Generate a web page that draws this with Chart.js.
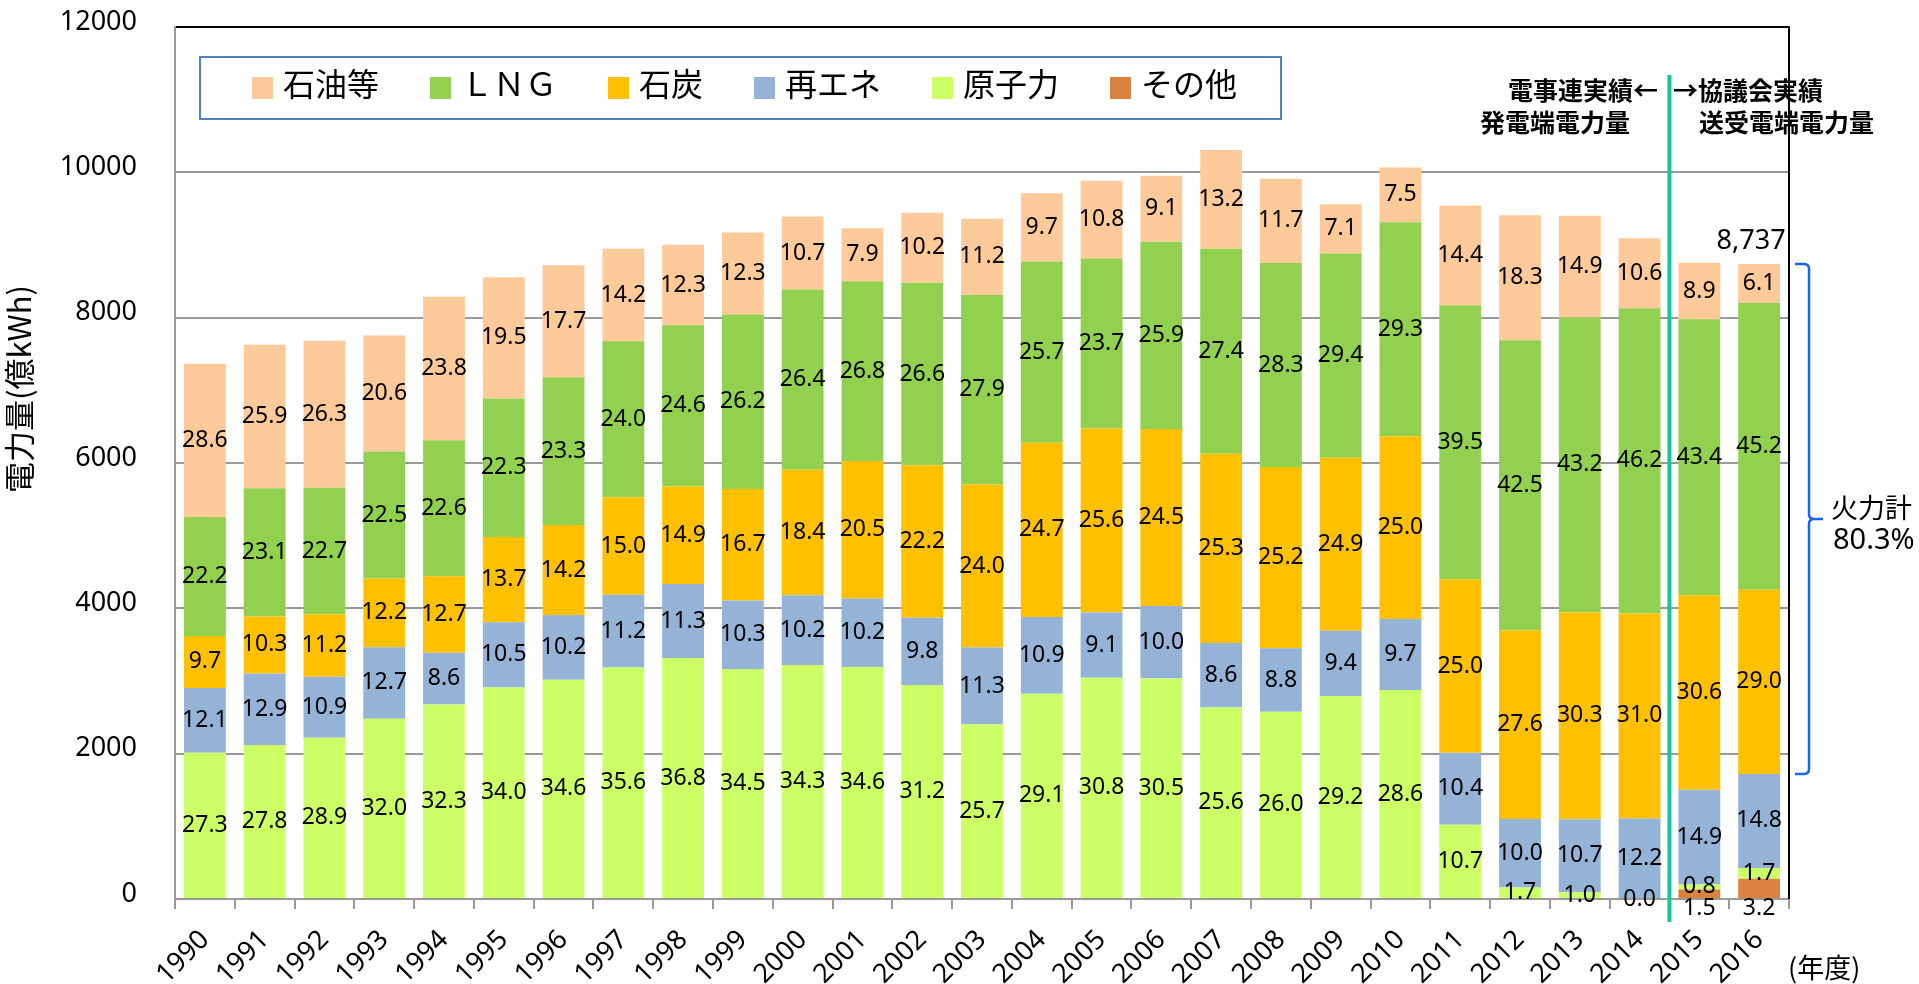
<!DOCTYPE html>
<html lang="ja">
<head>
<meta charset="utf-8">
<title>電源別発電電力量の推移</title>
<script src="https://cdn.jsdelivr.net/npm/chart.js@4.4.1/dist/chart.umd.min.js"></script>
<style>
  html, body { margin: 0; padding: 0; background: #fff; }
  #wrap { width: 1919px; height: 984px; position: relative; }
</style>
</head>
<body>
<div id="wrap"><canvas id="powerChart"></canvas></div>
<script>
// 年度
const years = ['1990', '1991', '1992', '1993', '1994', '1995', '1996', '1997', '1998', '1999',
  '2000', '2001', '2002', '2003', '2004', '2005', '2006', '2007', '2008', '2009',
  '2010', '2011', '2012', '2013', '2014', '2015', '2016'];

// 合計の電力量 (億kWh)
const totals = [7374, 7626, 7681, 7754, 8287, 8557, 8723, 8947, 9012, 9172,
  9392, 9232, 9443, 9351, 9704, 9883, 9952, 10296, 9911, 9562,
  10058, 9544, 9401, 9392, 9094, 8747, 8737];

// 電源別の構成比 (%)
const otherPct = [null, null, null, null, null, null, null, null, null, null,
  null, null, null, null, null, null, null, null, null, null,
  null, null, null, null, null, 1.5, 3.2];
const nuclearPct = [27.3, 27.8, 28.9, 32.0, 32.3, 34.0, 34.6, 35.6, 36.8, 34.5,
  34.3, 34.6, 31.2, 25.7, 29.1, 30.8, 30.5, 25.6, 26.0, 29.2,
  28.6, 10.7, 1.7, 1.0, 0.0, 0.8, 1.7];
const renewPct = [12.1, 12.9, 10.9, 12.7, 8.6, 10.5, 10.2, 11.2, 11.3, 10.3,
  10.2, 10.2, 9.8, 11.3, 10.9, 9.1, 10.0, 8.6, 8.8, 9.4,
  9.7, 10.4, 10.0, 10.7, 12.2, 14.9, 14.8];
const coalPct = [9.7, 10.3, 11.2, 12.2, 12.7, 13.7, 14.2, 15.0, 14.9, 16.7,
  18.4, 20.5, 22.2, 24.0, 24.7, 25.6, 24.5, 25.3, 25.2, 24.9,
  25.0, 25.0, 27.6, 30.3, 31.0, 30.6, 29.0];
const lngPct = [22.2, 23.1, 22.7, 22.5, 22.6, 22.3, 23.3, 24.0, 24.6, 26.2,
  26.4, 26.8, 26.6, 27.9, 25.7, 23.7, 25.9, 27.4, 28.3, 29.4,
  29.3, 39.5, 42.5, 43.2, 46.2, 43.4, 45.2];
const oilPct = [28.6, 25.9, 26.3, 20.6, 23.8, 19.5, 17.7, 14.2, 12.3, 12.3,
  10.7, 7.9, 10.2, 11.2, 9.7, 10.8, 9.1, 13.2, 11.7, 7.1,
  7.5, 14.4, 18.3, 14.9, 10.6, 8.9, 6.1];

const yTicks = [0, 2000, 4000, 6000, 8000, 10000, 12000];

const JP = '"Noto Sans CJK JP", "Noto Sans", sans-serif';
const NUM = '"Noto Sans", "Noto Sans CJK JP", sans-serif';

function makeSet(label, pct, color, extra) {
  return Object.assign({
    label: label,
    pct: pct,
    data: pct.map((p, i) => p == null ? 0 : totals[i] * p / 100),
    backgroundColor: color,
    borderWidth: 0,
    barPercentage: 0.70,
    categoryPercentage: 1.0
  }, extra || {});
}

// bottom -> top
const datasets = [
  makeSet('その他', otherPct, '#DB8240', { labelBelow: true }),
  makeSet('原子力', nuclearPct, '#CCFF66'),
  makeSet('再エネ', renewPct, '#95B3D7'),
  makeSet('石炭', coalPct, '#FFC000'),
  makeSet('ＬＮＧ', lngPct, '#92D050'),
  makeSet('石油等', oilPct, '#FFCA99')
];

const overlay = {
  id: 'overlay',
  beforeDatasetsDraw(chart) {
    const { ctx, chartArea } = chart;
    // 右枠
    ctx.save();
    ctx.strokeStyle = '#000';
    ctx.lineWidth = 2;
    ctx.beginPath();
    ctx.moveTo(chartArea.right, chartArea.top - 1);
    ctx.lineTo(chartArea.right, chartArea.bottom);
    ctx.stroke();
    ctx.restore();
  },
  afterDatasetsDraw(chart) {
    const { ctx, scales } = chart;
    const x = scales.x;

    // 2014/2015 の区切り線
    const xs = (x.getPixelForValue(24) + x.getPixelForValue(25)) / 2;
    ctx.save();
    ctx.strokeStyle = '#10C898';
    ctx.lineWidth = 4;
    ctx.beginPath();
    ctx.moveTo(xs, 75);
    ctx.lineTo(xs, 922);
    ctx.stroke();

    // データラベル
    ctx.fillStyle = '#000';
    ctx.font = '23px ' + NUM;
    ctx.textAlign = 'center';
    ctx.textBaseline = 'middle';
    chart.data.datasets.forEach((ds, di) => {
      const meta = chart.getDatasetMeta(di);
      meta.data.forEach((bar, i) => {
        const p = ds.pct[i];
        if (p == null) return;
        let y = (bar.y + bar.base) / 2;
        if (ds.labelBelow) y = bar.base + 10;
        ctx.fillText(p.toFixed(1), bar.x, y);
      });
    });
    ctx.restore();
  },
  afterDraw(chart) {
    const { ctx } = chart;
    ctx.save();

    // 縦軸タイトル
    ctx.fillStyle = '#000';
    ctx.font = '31px ' + JP;
    ctx.textAlign = 'center';
    ctx.textBaseline = 'middle';
    ctx.translate(19, 389);
    ctx.rotate(-Math.PI / 2);
    ctx.fillText('電力量(億kWh)', 0, 0);
    ctx.setTransform(1, 0, 0, 1, 0, 0);

    // 凡例
    ctx.strokeStyle = '#4F81BD';
    ctx.lineWidth = 2;
    ctx.strokeRect(200, 57, 1081, 62);
    ctx.font = '32px ' + JP;
    ctx.textAlign = 'left';
    let lx = 252;
    chart.data.datasets.slice().reverse().forEach(ds => {
      ctx.fillStyle = ds.backgroundColor;
      ctx.fillRect(lx, 77, 21, 22);
      ctx.fillStyle = '#000';
      ctx.fillText(ds.label, lx + 31, 84);
      lx += 31 + ctx.measureText(ds.label).width + 51;
    });

    // 注記
    ctx.font = 'bold 25px ' + JP;
    ctx.textAlign = 'right';
    ctx.fillText('電事連実績←', 1658, 90);
    ctx.fillText('発電端電力量', 1630, 122);
    ctx.textAlign = 'left';
    ctx.fillText('→協議会実績', 1673, 90);
    ctx.fillText('送受電端電力量', 1699, 122);

    ctx.font = '27px ' + NUM;
    ctx.textAlign = 'center';
    const metaOil = chart.getDatasetMeta(5);
    const metaCoal = chart.getDatasetMeta(3);
    const last = metaOil.data[26];
    ctx.fillText('8,737', last.x - 8, last.y - 23);

    // 火力計の括弧
    const top = last.y;
    const bot = metaCoal.data[26].base;
    const mid = (top + bot) / 2;
    const bx = 1809;
    ctx.strokeStyle = '#1466F0';
    ctx.lineWidth = 2.5;
    ctx.beginPath();
    ctx.moveTo(1795, top);
    ctx.lineTo(bx - 5, top);
    ctx.quadraticCurveTo(bx, top, bx, top + 5);
    ctx.lineTo(bx, mid - 5);
    ctx.quadraticCurveTo(bx, mid, bx + 5, mid);
    ctx.lineTo(1823, mid);
    ctx.moveTo(bx + 5, mid);
    ctx.quadraticCurveTo(bx, mid, bx, mid + 5);
    ctx.lineTo(bx, bot - 5);
    ctx.quadraticCurveTo(bx, bot, bx - 5, bot);
    ctx.lineTo(1795, bot);
    ctx.stroke();

    ctx.font = '27px ' + JP;
    ctx.textAlign = 'left';
    ctx.fillText('火力計', 1831, mid - 11);
    ctx.font = '29px ' + NUM;
    ctx.fillText('80.3%', 1833, mid + 22);

    ctx.font = '27px ' + JP;
    ctx.fillText('(年度)', 1788, 968);
    ctx.restore();
  }
};

new Chart(document.getElementById('powerChart'), {
  type: 'bar',
  data: { labels: years, datasets: datasets },
  plugins: [overlay],
  options: {
    responsive: true,
    maintainAspectRatio: false,
    animation: false,
    layout: { padding: { top: 27, right: 130, bottom: 0, left: 0 } },
    plugins: {
      legend: { display: false },
      tooltip: { enabled: false }
    },
    scales: {
      x: {
        stacked: true,
        grid: {
          offset: true,
          drawOnChartArea: false,
          drawTicks: true,
          tickLength: 10,
          color: '#999',
          lineWidth: 2
        },
        border: { color: '#999', width: 2 },
        ticks: {
          autoSkip: false,
          minRotation: 45,
          maxRotation: 45,
          padding: 15,
          color: '#000',
          font: { family: NUM, size: 27 }
        },
        afterFit(s) { s.height = 85; }
      },
      y: {
        stacked: true,
        min: yTicks[0],
        max: yTicks[yTicks.length - 1],
        afterBuildTicks(s) { s.ticks = yTicks.map(v => ({ value: v })); },
        grid: {
          color: ctx => ctx.tick && ctx.tick.value === 12000 ? '#000' : '#999',
          lineWidth: 2,
          drawTicks: true,
          tickLength: 38,
          tickColor: 'rgba(0,0,0,0)'
        },
        border: { color: '#999', width: 2 },
        ticks: {
          padding: 0,
          labelOffset: -5,
          color: '#000',
          font: { family: NUM, size: 27 },
          callback: v => String(v)
        },
        afterFit(s) { s.width = 175; }
      }
    }
  }
});
</script>
</body>
</html>
